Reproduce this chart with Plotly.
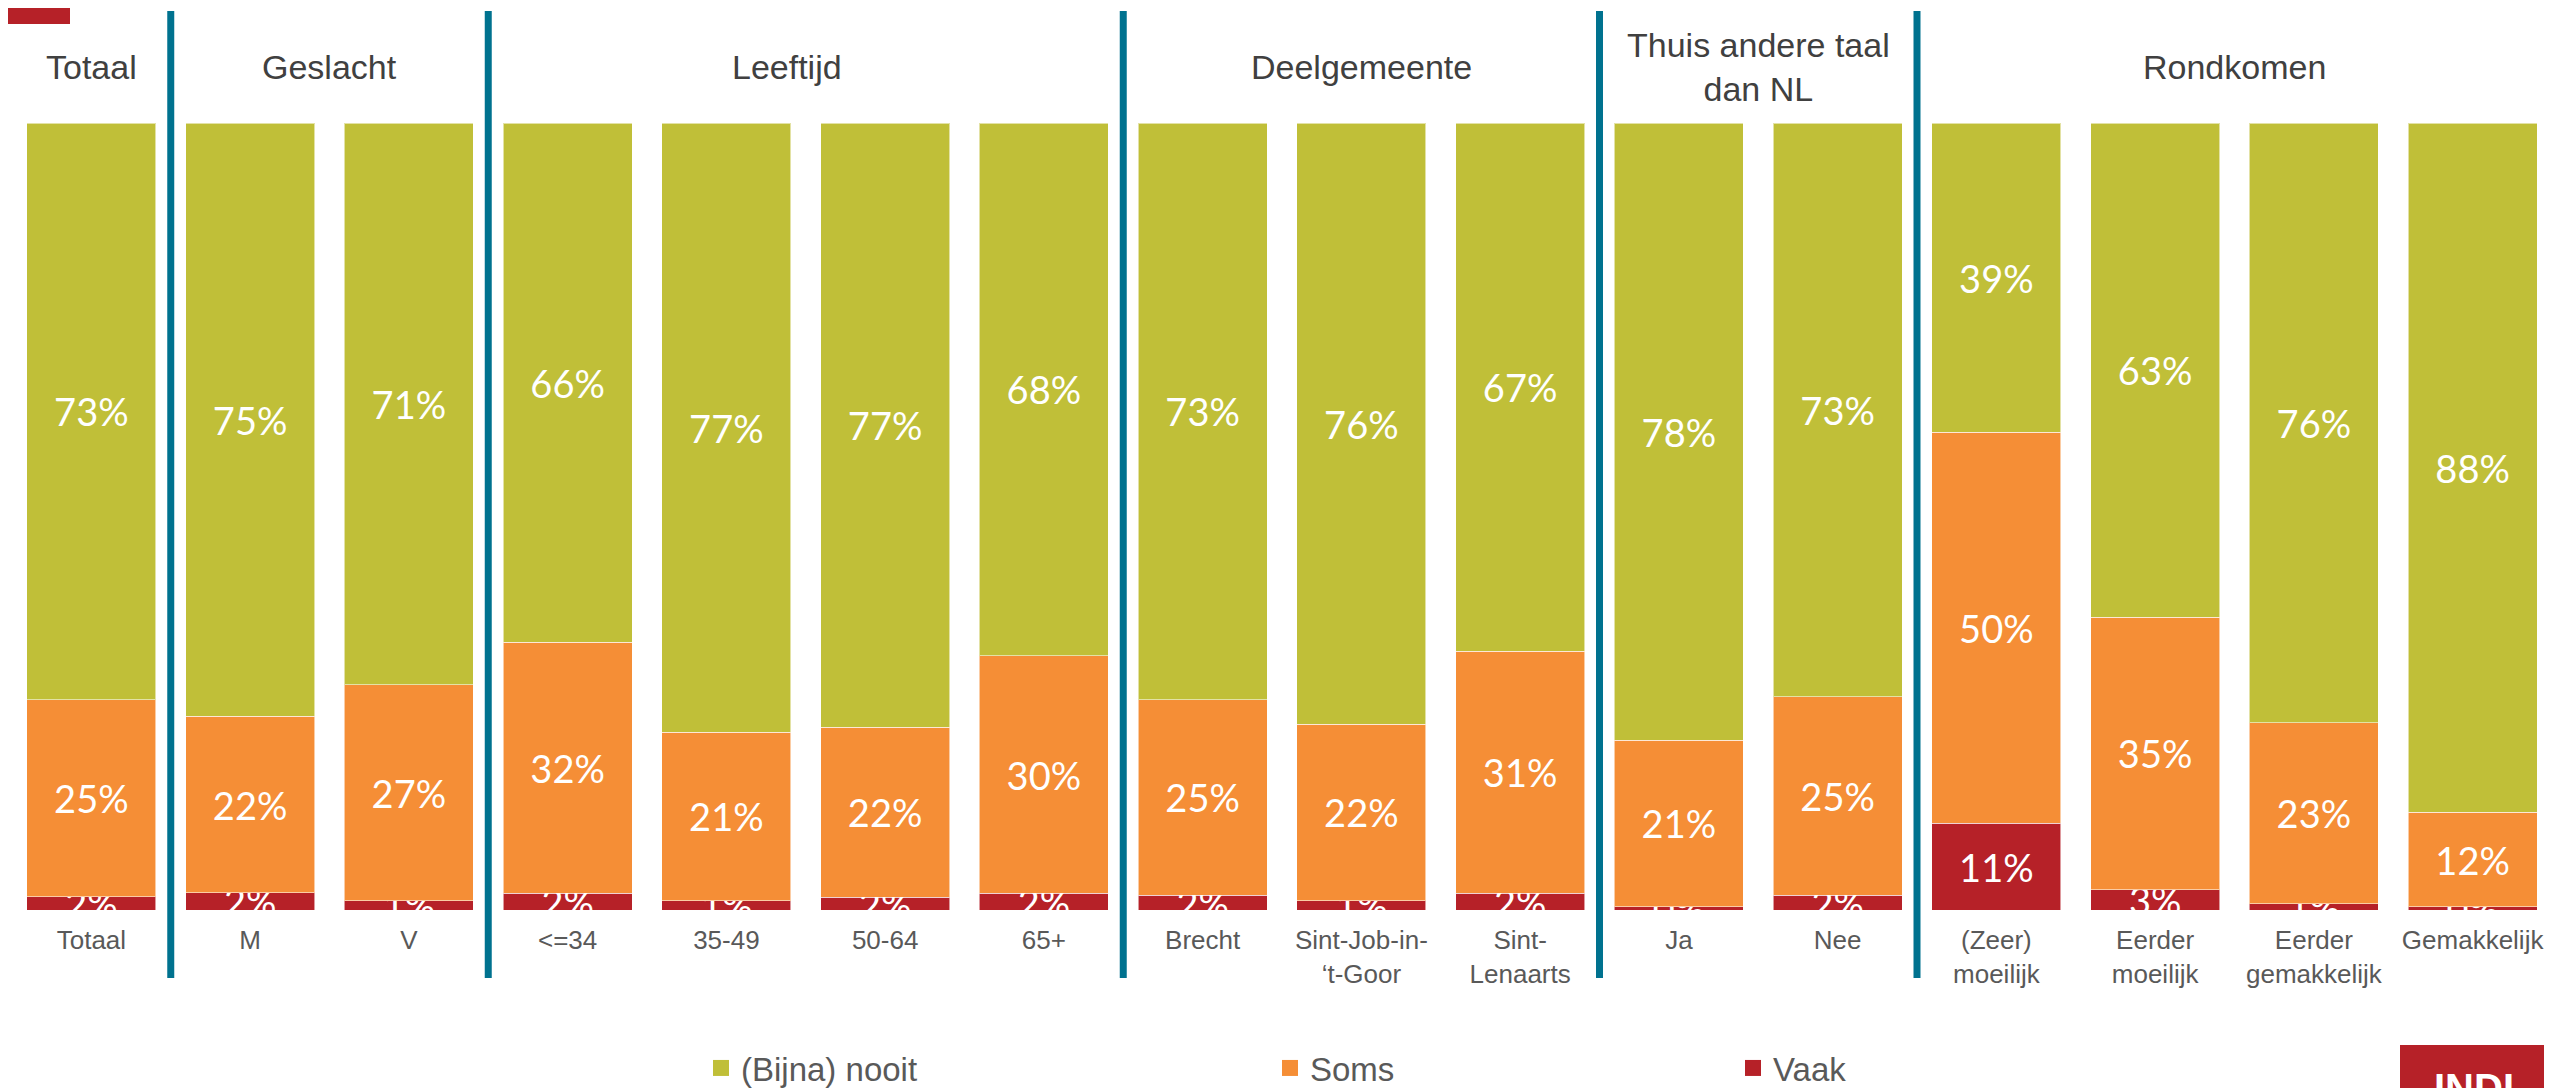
import plotly.graph_objects as go

# Data #
categories = [
    "Totaal", "M", "V", "<=34", "35-49", "50-64", "65+",
    "Brecht", "Sint-Job-in-<br>‘t-Goor", "Sint-<br>Lenaarts",
    "Ja", "Nee",
    "(Zeer)<br>moeilijk", "Eerder<br>moeilijk", "Eerder<br>gemakkelijk", "Gemakkelijk",
]
vaak = [1.7, 2.2, 1.2, 2.1, 1.2, 1.6, 2.1, 1.9, 1.2, 2.1, 0.4, 1.9, 11.0, 2.6, 0.8, 0.4]
soms = [25.0, 22.4, 27.4, 31.9, 21.4, 21.6, 30.2, 24.8, 22.4, 30.8, 21.2, 25.2, 49.7, 34.6, 23.0, 12.0]
nooit = [73.3, 75.4, 71.4, 66.0, 77.4, 76.8, 67.7, 73.3, 76.4, 67.1, 78.4, 72.9, 39.3, 62.8, 76.2, 87.6]

group_names = ["Totaal", "Geslacht", "Leeftijd", "Deelgemeente", "Thuis andere taal<br>dan NL", "Rondkomen"]
group_sizes = [1, 2, 4, 3, 2, 4]

series_names = ["Vaak", "Soms", "(Bijna) nooit"]
series_values = [vaak, soms, nooit]

# Styles #
colors = {"Vaak": "#B62128", "Soms": "#F58E36", "(Bijna) nooit": "#C0BF38"}
legend_keys = {"(Bijna) nooit": "legend", "Soms": "legend2", "Vaak": "legend3"}
header_shift = {"Leeftijd": -0.12}  # header sits a bit left of its group centre
divider_color = "#00728F"
font = "Liberation Sans, Arial, sans-serif"

# the page body adds an 8px offset, so the figure is sized/placed against that
OX, OY = 8, 8
W, H = 2552 - OX, 1088 - OY
ML, MR, MT, MB = 4, 0, 115, 178
plot_w = W - ML - MR
plot_h = H - MT - MB
legend_left = {"legend": 701, "legend2": 1270, "legend3": 1733}  # page px


def paper_x(xp):
    return (xp - OX - ML) / plot_w


def paper_y(yp):
    return (MT + plot_h - (yp - OY)) / plot_h


fig = go.Figure()

for name, values in zip(series_names, series_values):
    fig.add_trace(go.Bar(
        x=categories,
        y=values,
        name=name,
        marker=dict(color=colors[name], line=dict(color="rgba(255,255,255,0.55)", width=1)),
        texttemplate="%{y:.0f}%",
        textposition="inside",
        insidetextanchor="middle",
        textangle=0,
        constraintext="none",
        textfont=dict(family="Lato, sans-serif", size=38, color="white"),
        cliponaxis=True,
        showlegend=False,
        hoverinfo="skip",
    ))

# legend entries (bigger square symbols than the bar icon)
for name in ["(Bijna) nooit", "Soms", "Vaak"]:
    fig.add_trace(go.Scatter(
        x=[None], y=[None],
        mode="markers",
        name=name,
        marker=dict(symbol="square", size=20, color=colors[name]),
        legend=legend_keys[name],
        showlegend=True,
    ))

# group headers and dividers
shapes = []
annotations = []
start = 0
for i, (gname, size) in enumerate(zip(group_names, group_sizes)):
    center = start + (size - 1) / 2 + header_shift.get(gname, 0)
    annotations.append(dict(
        x=center, xref="x",
        y=paper_y(67), yref="paper",
        text=gname, showarrow=False,
        font=dict(family=font, size=34, color="#404040"),
        xanchor="center", yanchor="middle",
    ))
    if i > 0:
        shapes.append(dict(
            type="line", xref="x", yref="paper",
            x0=start - 0.5, x1=start - 0.5,
            y0=paper_y(978), y1=paper_y(11),
            line=dict(color=divider_color, width=7),
        ))
    start += size

# red corner marks
shapes.append(dict(
    type="rect", xref="paper", yref="paper",
    x0=paper_x(OX), x1=paper_x(70),
    y0=paper_y(24), y1=paper_y(OY),
    fillcolor="#B62128", line=dict(width=0),
))
shapes.append(dict(
    type="rect", xref="paper", yref="paper",
    x0=paper_x(2400), x1=1.0,
    y0=paper_y(1088), y1=paper_y(1045),
    fillcolor="#B62128", line=dict(width=0),
))
annotations.append(dict(
    x=paper_x(2474), xref="paper",
    y=paper_y(1064), yref="paper",
    text="<b>INDI</b>", showarrow=False,
    font=dict(family=font, size=40, color="white"),
    xanchor="center", yanchor="top",
))

fig.update_layout(
    width=W,
    height=H,
    barmode="stack",
    bargap=0.1875,
    template="plotly_white",
    plot_bgcolor="white",
    paper_bgcolor="white",
    margin=dict(l=ML, r=MR, t=MT, b=MB, autoexpand=False),
    uniformtext=dict(minsize=38, mode="show"),
    shapes=shapes,
    annotations=annotations,
    font=dict(family=font),
)

for key in ["legend", "legend2", "legend3"]:
    fig.update_layout({key: dict(
        xref="container", yref="container",
        x=(legend_left[key] - OX) / W, y=(1088 - 1068) / H,
        xanchor="left", yanchor="middle",
        orientation="h",
        bgcolor="rgba(0,0,0,0)",
        font=dict(family=font, size=33, color="#595959"),
        itemwidth=30,
    )})

fig.update_xaxes(
    showgrid=False,
    showline=False,
    zeroline=False,
    ticks="",
    ticklabelstandoff=12,
    tickfont=dict(family=font, size=26, color="#595959"),
    fixedrange=True,
)
fig.update_yaxes(
    range=[0, 100],
    visible=False,
    showgrid=False,
    fixedrange=True,
)

fig.write_html("out.html")
